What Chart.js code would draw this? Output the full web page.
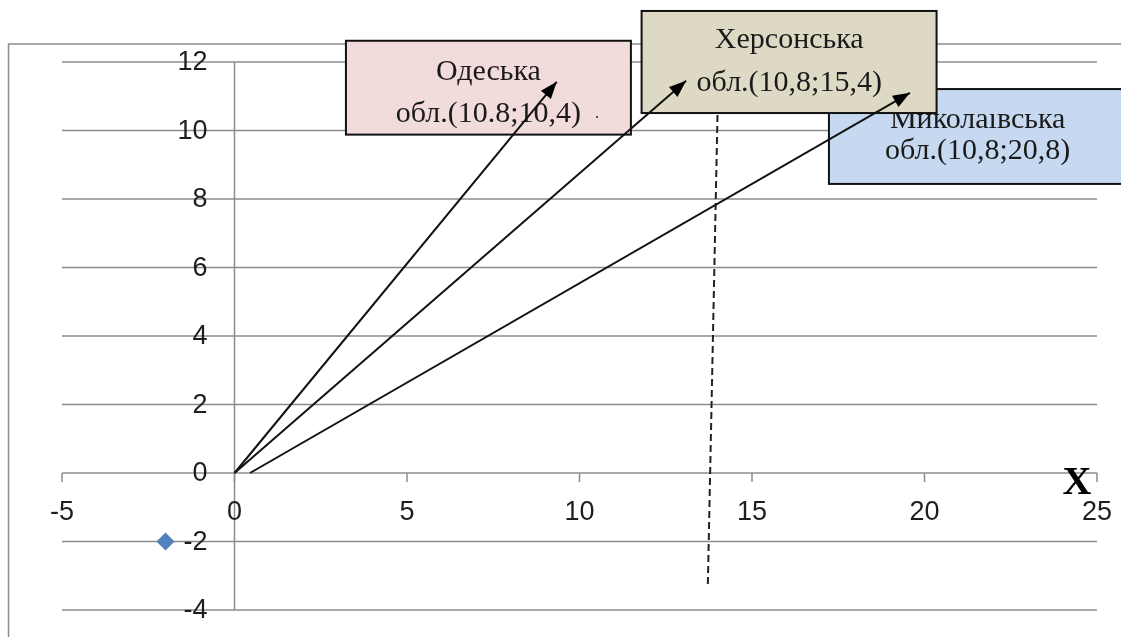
<!DOCTYPE html>
<html lang="uk">
<head>
<meta charset="UTF-8">
<title>Вектори областей</title>
<script src="https://cdn.jsdelivr.net/npm/chart.js"></script>
<style>
  html, body { margin: 0; padding: 0; background: #fff; }
  #wrap { position: relative; width: 1121px; height: 637px; }
</style>
</head>
<body>
<div id="wrap"><canvas id="chart"></canvas></div>
<script>
// data
const xTicks = [-5, 0, 5, 10, 15, 20, 25];
const yTicks = [-4, -2, 0, 2, 4, 6, 8, 10, 12];
const regionNames = ['Одеська', 'Херсонська', 'Миколаївська'];
const regionCoords = ['обл.(10.8;10,4)', 'обл.(10,8;15,4)', 'обл.(10,8;20,8)'];
const arrowStart = [{x: 0, y: 0}, {x: 0, y: 0}, {x: 0.45, y: 0}];
const arrowEnd = [{x: 9.34, y: 11.42}, {x: 13.09, y: 11.45}, {x: 19.58, y: 11.10}];
const dashedLine = [{x: 14.0, y: 10.45}, {x: 13.72, y: -3.27}];
const marker = [{x: -2, y: -2}];

// callout boxes (data units), drawn in this order
const boxes = [
  {i: 0, x0: 3.23, x1: 11.49, y0: 12.62, y1: 9.88, tx: 7.36, b1: 39, b2: 81, fill: '#f2dcdb'},
  {i: 2, x0: 17.23, x1: 25.9, y0: 11.21, y1: 8.44, tx: 21.54, b1: 39, b2: 70, fill: '#c6d9f0', clipTop: 25},
  {i: 1, x0: 11.80, x1: 20.35, y0: 13.49, y1: 10.51, tx: 16.08, b1: 37, b2: 80, fill: '#ddd9c4'}
];

const gridColor = '#8c8c8c';
const tickFont = '27px "Liberation Sans", Arial, sans-serif';
const boxFont = '30px "Liberation Serif", "Times New Roman", serif';

const axesPlugin = {
  id: 'axesPlugin',
  beforeDatasetsDraw(chart) {
    const {ctx, scales: {x, y}} = chart;
    const px0 = x.getPixelForValue(0), py0 = y.getPixelForValue(0);
    const left = x.getPixelForValue(xTicks[0]);
    const right = x.getPixelForValue(xTicks[xTicks.length - 1]);
    const top = y.getPixelForValue(yTicks[yTicks.length - 1]);
    const bottom = y.getPixelForValue(yTicks[0]);
    ctx.save();

    // outer frame
    ctx.strokeStyle = gridColor;
    ctx.lineWidth = 1.5;
    ctx.beginPath();
    ctx.moveTo(chart.width, top - 18);
    ctx.lineTo(8.5, top - 18);
    ctx.lineTo(8.5, chart.height);
    ctx.stroke();

    // horizontal grid
    yTicks.forEach(v => {
      const py = y.getPixelForValue(v);
      ctx.beginPath();
      ctx.moveTo(left, py);
      ctx.lineTo(right, py);
      ctx.stroke();
    });
    // vertical axis at x = 0
    ctx.beginPath();
    ctx.moveTo(px0, top);
    ctx.lineTo(px0, bottom);
    ctx.stroke();
    // x tick marks
    xTicks.forEach(v => {
      const px = x.getPixelForValue(v);
      ctx.beginPath();
      ctx.moveTo(px, py0);
      ctx.lineTo(px, py0 + 9);
      ctx.stroke();
    });

    // tick labels
    ctx.fillStyle = '#1e1e1e';
    ctx.font = tickFont;
    ctx.textAlign = 'right';
    ctx.textBaseline = 'middle';
    yTicks.forEach(v => ctx.fillText(String(v), px0 - 27, y.getPixelForValue(v) + 1));
    ctx.textAlign = 'center';
    xTicks.forEach(v => ctx.fillText(String(v), x.getPixelForValue(v), py0 + 40));

    // axis name
    ctx.font = 'bold 40px "Liberation Serif", "Times New Roman", serif';
    ctx.textBaseline = 'alphabetic';
    ctx.fillStyle = '#000';
    ctx.fillText('X', right - 20, py0 + 21);

    // callout boxes
    boxes.forEach(b => {
      const bx0 = x.getPixelForValue(b.x0), bx1 = x.getPixelForValue(b.x1);
      const by0 = y.getPixelForValue(b.y0), by1 = y.getPixelForValue(b.y1);
      ctx.fillStyle = b.fill;
      ctx.fillRect(bx0, by0, bx1 - bx0, by1 - by0);
      ctx.strokeStyle = '#111';
      ctx.lineWidth = 2;
      ctx.strokeRect(bx0, by0, bx1 - bx0, by1 - by0);
      const tx = x.getPixelForValue(b.tx);
      ctx.fillStyle = '#1a1a1a';
      ctx.font = boxFont;
      ctx.textAlign = 'center';
      ctx.textBaseline = 'alphabetic';
      ctx.save();
      if (b.clipTop) {
        ctx.beginPath();
        ctx.rect(bx0, by0 + b.clipTop, bx1 - bx0, by1 - by0 - b.clipTop);
        ctx.clip();
      }
      ctx.fillText(regionNames[b.i], tx, by0 + b.b1);
      ctx.restore();
      ctx.fillText(regionCoords[b.i], tx, by0 + b.b2);
      if (b.i === 0) {
        ctx.font = '16px "Liberation Serif", serif';
        ctx.fillText('.', bx1 - 34, by0 + 77);
      }
    });
    ctx.restore();
  },
  afterDatasetsDraw(chart) {
    const {ctx} = chart;
    ctx.save();
    ctx.fillStyle = '#000';
    arrowEnd.forEach((_, i) => {
      const pts = chart.getDatasetMeta(i).data;
      const p = pts[1], q = pts[0];
      const a = Math.atan2(p.y - q.y, p.x - q.x);
      const len = 17, half = 6.5;
      ctx.beginPath();
      ctx.moveTo(p.x, p.y);
      ctx.lineTo(p.x - len * Math.cos(a) + half * Math.sin(a), p.y - len * Math.sin(a) - half * Math.cos(a));
      ctx.lineTo(p.x - len * Math.cos(a) - half * Math.sin(a), p.y - len * Math.sin(a) + half * Math.cos(a));
      ctx.closePath();
      ctx.fill();
    });
    ctx.restore();
  }
};

const datasets = arrowEnd.map((end, i) => ({
  label: regionNames[i],
  data: [arrowStart[i], end],
  showLine: true,
  borderColor: '#111',
  borderWidth: 2,
  pointRadius: 0,
  clip: false
}));
datasets.push({
  label: 'dashed',
  data: dashedLine,
  showLine: true,
  borderColor: '#222',
  borderWidth: 2,
  borderDash: [7, 4],
  pointRadius: 0,
  clip: false
});
datasets.push({
  label: 'point',
  data: marker,
  showLine: false,
  pointStyle: 'rectRot',
  pointRadius: 9,
  backgroundColor: '#4f81bd',
  borderColor: '#4f81bd',
  borderWidth: 0
});

new Chart(document.getElementById('chart'), {
  type: 'scatter',
  data: {datasets},
  options: {
    responsive: true,
    maintainAspectRatio: false,
    animation: false,
    layout: {padding: {left: 62, right: 24, top: 62, bottom: 27}},
    plugins: {legend: {display: false}, tooltip: {enabled: false}},
    scales: {
      x: {type: 'linear', min: -5, max: 25, display: false},
      y: {type: 'linear', min: -4, max: 12, display: false}
    }
  },
  plugins: [axesPlugin]
});
</script>
</body>
</html>
